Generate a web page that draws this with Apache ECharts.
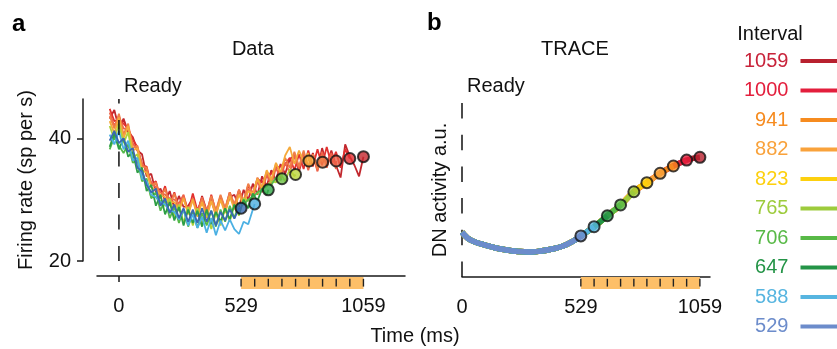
<!DOCTYPE html>
<html><head><meta charset="utf-8">
<script src="https://cdn.jsdelivr.net/npm/echarts@6/dist/echarts.min.js"></script>
<style>html,body{margin:0;padding:0;background:#fff}#c{width:837px;height:349px}</style>
</head><body><div id="c"></div>
<script>
// ---------- data ----------
const intervals = [529, 588, 647, 706, 765, 823, 882, 941, 1000, 1059];
const xTickLabels = [0, 529, 1059];
const yTickLabelsA = [20, 40];
const readyTime = 0;
const yRangeA = [20, 46.4];
const yRangeB = [0, 1];

// panel a: firing rate (sp per s) sampled every 20 ms from -40 ms
const timesA = [-40,-20,0,20,40,60,80,100,120,140,160,180,200,220,240,260,280,300,320,340,360,380,400,420,440,460,480,500,520,540,560,580,600,620,640,660,680,700,720,740,760,780,800,820,840,860,880,900,920,940,960,980,1000,1020,1040];
const a529 = [39.6,41.2,39.2,40.0,37.8,38.4,35.2,34.6,32.4,31.2,31.8,29.0,30.2,27.8,29.2,27.0,28.6,26.4,28.4,26.2,28.6,26.4,28.2,25.8,28.0,26.6,28.4,26.9,28.6];
const a588 = [40.6,39.0,41.2,38.2,39.6,36.4,36.8,33.4,33.0,30.8,30.4,29.6,29.2,28.2,28.0,26.8,28.4,25.8,27.6,25.4,27.2,24.6,27.0,24.2,26.6,25.0,26.8,25.2,24.4,26.4,26.0,28.4];
const a647 = [38.6,40.8,38.2,40.0,37.0,37.8,34.4,35.2,31.4,32.4,29.0,30.8,27.6,29.6,26.6,28.8,25.8,28.4,26.2,28.2,25.6,28.4,26.0,28.0,26.4,28.6,26.8,29.2,27.6,30.0,28.6,31.0,29.8,31.8,30.8];
const a706 = [38.2,40.2,38.8,37.6,39.0,36.0,36.4,33.0,33.4,30.2,31.2,28.2,30.0,27.0,28.8,26.2,28.4,25.6,28.0,25.4,27.8,25.8,28.2,25.6,28.4,26.4,29.0,27.0,29.4,29.2,30.0,30.4,31.2,31.6,32.4,32.4,33.6,33.2];
const a765 = [42.0,39.8,42.4,39.2,41.0,36.8,37.4,33.6,33.0,30.4,30.4,29.8,29.0,30.2,27.2,29.2,26.2,28.8,25.8,28.6,26.0,27.9,25.2,27.8,25.8,28.6,26.4,29.2,27.4,30.2,29.8,30.6,31.0,31.8,32.2,33.0,32.8,34.2,33.0,35.0,33.8];
const a823 = [42.8,40.8,43.4,40.0,42.0,38.0,38.4,34.8,34.4,32.0,31.6,30.8,30.4,29.6,29.6,28.2,30.2,27.6,30.0,27.2,29.6,27.0,29.8,27.6,30.0,27.8,30.6,28.4,30.8,29.2,31.4,31.0,33.4,31.8,34.8,33.2,36.0,34.4,37.2,38.6,35.8,38.0,36.2,37.6];
const a882 = [43.6,41.6,44.0,40.6,42.4,38.4,38.8,35.4,35.2,32.2,32.8,30.2,31.8,29.0,31.0,28.4,30.4,27.8,30.2,27.6,30.0,28.0,30.6,28.2,30.8,28.6,31.2,29.2,31.6,29.8,32.6,30.8,33.6,32.0,34.6,33.0,35.8,34.2,36.8,35.2,37.8,35.4,38.0,35.2,37.4,35.0,37.2];
const a941 = [44.2,42.0,43.6,41.6,41.4,39.2,38.0,36.0,34.6,32.8,32.0,31.2,30.8,30.2,30.0,29.4,30.8,28.0,30.2,27.8,30.4,28.0,29.8,27.4,30.2,28.2,31.0,28.8,31.4,29.4,31.8,30.2,33.0,31.2,34.0,32.4,35.2,33.4,36.0,34.4,37.2,35.0,37.6,34.8,37.4,34.6,37.8,35.2,37.6,35.0];
const a1000 = [44.8,42.8,43.0,42.4,41.6,39.8,38.6,35.6,35.4,32.4,33.0,30.2,32.2,29.2,31.2,28.6,30.6,28.0,31.0,28.2,30.2,27.6,30.8,28.0,30.4,28.4,31.2,29.0,31.6,29.6,32.4,31.0,33.4,32.8,34.0,34.2,35.2,35.4,35.8,36.8,34.8,37.4,35.0,38.0,35.4,38.2,35.6,38.6,35.8,37.8,35.2,38.2];
const a1059 = [43.2,44.6,41.6,43.2,41.0,40.2,38.0,37.4,33.8,34.2,31.2,31.8,29.8,31.4,28.6,30.6,28.8,29.0,30.2,27.6,30.6,28.2,30.0,27.8,30.6,28.2,30.4,30.8,28.8,31.6,30.0,32.6,30.8,33.8,32.2,34.8,33.2,35.8,34.2,36.6,37.2,34.6,37.4,35.2,37.6,34.8,38.4,35.6,38.0,35.6,33.6,39.0,37.0,35.6,33.8];
const linesA = [a529, a588, a647, a706, a765, a823, a882, a941, a1000, a1059];
const endValuesA = [28.6, 29.3, 31.6, 33.4, 34.1, 36.3, 36.1, 36.3, 36.7, 37.0];

// panel b: TRACE model DN activity (a.u.)
const traceTimes = [0, 25, 50, 100, 150, 200, 250, 300, 350, 400, 450, 500, 529, 588, 647, 706, 765, 823, 882, 941, 1000, 1059];
const traceValues = [0.257, 0.224, 0.205, 0.184, 0.167, 0.155, 0.147, 0.144, 0.149, 0.161, 0.178, 0.210, 0.236, 0.289, 0.352, 0.414, 0.490, 0.542, 0.596, 0.638, 0.672, 0.688];

// ---------- styles ----------
const colorsA = ['#3a68b3','#4bb0e3','#2e9e45','#55b94a','#b0d23a','#f5a93a','#f07e48','#ee6248','#e2302e','#c1272d'];
const circleColorsA = ['#3667b0','#4caee0','#33aa48','#6cbf44','#bcd638','#f5aa3c','#f07f48','#ee6148','#e22d2f','#c3262d'];
const colorsB = ['#6c8ccb','#57b5e0','#249447','#58b947','#9dcb3c','#fdd00e','#f9a23b','#f68b1f','#e31e3c','#b8202e'];
const legendTextColors = ['#6c8ccb','#57b5e0','#249447','#58b947','#9dcb3c','#fdd00e','#f9a23b','#f68b1f','#e31e3c','#c8233a'];
const FONT = '"Liberation Sans", Arial, Helvetica, sans-serif';
const barColor = '#fdbf68';

const series = [];
// panel a lines: longest first (bottom), shortest last (top)
for (let i = intervals.length - 1; i >= 0; i--) {
  const vals = linesA[i];
  const data = [];
  for (let k = 0; k < vals.length; k++) data.push([timesA[k], vals[k]]);
  data.push([intervals[i], endValuesA[i]]);
  series.push({
    name: String(intervals[i]), type: 'line', xAxisIndex: 0, yAxisIndex: 0,
    data, showSymbol: false, symbol: 'none', silent: true,
    lineStyle: { color: colorsA[i], width: 1.8 }, itemStyle: { color: colorsA[i] }, z: 2
  });
}

// dashed "Ready" marker drawn through the axes
function readySeries(xi, yi, range, dash, z) {
  return {
    type: 'custom', xAxisIndex: xi, yAxisIndex: yi, silent: true, z,
    data: [[readyTime, range[0], range[1]]],
    renderItem: (p, api) => {
      const a = api.coord([api.value(0), api.value(1)]);
      const b = api.coord([api.value(0), api.value(2)]);
      return { type: 'line', shape: { x1: a[0], y1: a[1], x2: b[0], y2: b[1] },
        style: { stroke: '#111', lineWidth: 1.5, lineDash: dash, fill: null } };
    }
  };
}
series.push(readySeries(0, 0, yRangeA, [15, 16.5], 3));
series.push({
  name: 'endA', type: 'scatter', xAxisIndex: 0, yAxisIndex: 0, silent: true,
  symbolSize: 11,
  data: intervals.map((v, i) => ({ value: [v, endValuesA[i]], itemStyle: { color: circleColorsA[i] } })),
  itemStyle: { borderColor: '#111', borderWidth: 2 }, z: 5
});

// panel b lines
for (let i = intervals.length - 1; i >= 0; i--) {
  const data = [];
  for (let k = 0; k < traceTimes.length; k++) if (traceTimes[k] <= intervals[i]) data.push([traceTimes[k], traceValues[k]]);
  series.push({
    name: String(intervals[i]), type: 'line', xAxisIndex: 2, yAxisIndex: 2,
    data, showSymbol: false, symbol: 'none', smooth: true, silent: true,
    lineStyle: { color: colorsB[i], width: 5.5 }, itemStyle: { color: colorsB[i] }, z: 2
  });
}
series.push(readySeries(2, 2, yRangeB, [15.5, 16.2], 1));
series.push({
  name: 'endB', type: 'scatter', xAxisIndex: 2, yAxisIndex: 2, silent: true,
  symbolSize: 11,
  data: intervals.map((v, i) => ({ value: [v, traceValues[traceTimes.indexOf(v)]], itemStyle: { color: colorsB[i] } })),
  itemStyle: { borderColor: '#111', borderWidth: 2 }, z: 5
});

// orange interval bars with tick marks
function barSeries(xi, yi) {
  return [{
    type: 'custom', xAxisIndex: xi, yAxisIndex: yi, silent: true,
    data: [[intervals[0], intervals[intervals.length - 1]]],
    renderItem: (p, api) => {
      const a = api.coord([api.value(0), 1]);
      const b = api.coord([api.value(1), 0]);
      return { type: 'rect', shape: { x: a[0], y: a[1], width: b[0] - a[0], height: b[1] - a[1] }, style: { fill: barColor } };
    }
  }, {
    type: 'custom', xAxisIndex: xi, yAxisIndex: yi, silent: true,
    data: intervals.map(v => [v]),
    renderItem: (p, api) => {
      const a = api.coord([api.value(0), 0.85]);
      const b = api.coord([api.value(0), 0.2]);
      return { type: 'line', shape: { x1: a[0], y1: a[1], x2: b[0], y2: b[1] }, style: { stroke: '#222', lineWidth: 1.4 } };
    }, z: 3
  }];
}
series.push(...barSeries(1, 1), ...barSeries(3, 3));

const axisLineStyle = { color: '#1a1a1a', width: 1.5 };
const plain = v => String(v);

const option = {
  animation: false,
  textStyle: { fontFamily: FONT },
  grid: [
    { left: 97, top: 99, width: 308, height: 162 },
    { left: 97, top: 277, width: 308, height: 12 },
    { left: 462, top: 103, width: 248, height: 174 },
    { left: 462, top: 277, width: 248, height: 12 }
  ],
  xAxis: [
    { gridIndex: 0, type: 'value', min: -95, max: 1239, offset: 15,
      axisLine: { show: true, onZero: false, lineStyle: axisLineStyle },
      axisTick: { show: true, length: 6, customValues: [readyTime], lineStyle: axisLineStyle },
      axisLabel: { customValues: xTickLabels, formatter: plain, fontSize: 20, color: '#111', margin: 20, fontFamily: FONT },
      splitLine: { show: false } },
    { gridIndex: 1, type: 'value', min: -95, max: 1239, show: false },
    { gridIndex: 2, type: 'value', min: 0, max: 1104,
      axisLine: { show: true, onZero: false, lineStyle: axisLineStyle },
      axisTick: { show: false },
      axisLabel: { customValues: xTickLabels, formatter: plain, fontSize: 20, color: '#111', margin: 20, fontFamily: FONT },
      splitLine: { show: false } },
    { gridIndex: 3, type: 'value', min: 0, max: 1104, show: false }
  ],
  yAxis: [
    { gridIndex: 0, type: 'value', min: yRangeA[0], max: yRangeA[1], offset: 14,
      name: 'Firing rate (sp per s)', nameLocation: 'middle', nameGap: 47, nameRotate: 90,
      nameTextStyle: { fontSize: 20, color: '#111', fontFamily: FONT },
      axisLine: { show: true, onZero: false, lineStyle: axisLineStyle },
      axisTick: { show: true, length: 6, customValues: yTickLabelsA, lineStyle: axisLineStyle },
      axisLabel: { customValues: yTickLabelsA, formatter: plain, fontSize: 20, color: '#111', margin: 12, fontFamily: FONT },
      splitLine: { show: false } },
    { gridIndex: 1, type: 'value', min: 0, max: 1, show: false },
    { gridIndex: 2, type: 'value', min: yRangeB[0], max: yRangeB[1],
      name: 'DN activity a.u.', nameLocation: 'middle', nameGap: 12, nameRotate: 90,
      nameTextStyle: { fontSize: 20, color: '#111', fontFamily: FONT },
      axisLine: { show: false, onZero: false }, axisTick: { show: false }, axisLabel: { show: false }, splitLine: { show: false } },
    { gridIndex: 3, type: 'value', min: 0, max: 1, show: false }
  ],
  legend: {
    orient: 'vertical', left: 744, top: 51, padding: 0, align: 'right',
    icon: 'rect', itemWidth: 40, itemHeight: 4, itemGap: 9.5, selectedMode: false,
    textStyle: { fontSize: 20, fontFamily: FONT, lineHeight: 20, padding: [0, 7, 0, 0] },
    data: intervals.map((v, i) => ({ name: String(v), itemStyle: { color: colorsB[i] }, textStyle: { color: legendTextColors[i] } })).reverse()
  },
  graphic: [
    { type: 'text', x: 12, y: 24, style: { text: 'a', fontSize: 24, fontWeight: 'bold', fontFamily: FONT, fill: '#000', verticalAlign: 'middle' } },
    { type: 'text', x: 427, y: 23, style: { text: 'b', fontSize: 24, fontWeight: 'bold', fontFamily: FONT, fill: '#000', verticalAlign: 'middle' } },
    { type: 'text', x: 253, y: 49, style: { text: 'Data', fontSize: 20, fontFamily: FONT, fill: '#111', align: 'center', verticalAlign: 'middle' } },
    { type: 'text', x: 575, y: 49, style: { text: 'TRACE', fontSize: 20, fontFamily: FONT, fill: '#111', align: 'center', verticalAlign: 'middle' } },
    { type: 'text', x: 124, y: 86, style: { text: 'Ready', fontSize: 20, fontFamily: FONT, fill: '#111', verticalAlign: 'middle' } },
    { type: 'text', x: 467, y: 86, style: { text: 'Ready', fontSize: 20, fontFamily: FONT, fill: '#111', verticalAlign: 'middle' } },
    { type: 'text', x: 770, y: 34, style: { text: 'Interval', fontSize: 20, fontFamily: FONT, fill: '#111', align: 'center', verticalAlign: 'middle' } },
    { type: 'text', x: 415, y: 336, style: { text: 'Time (ms)', fontSize: 20, fontFamily: FONT, fill: '#111', align: 'center', verticalAlign: 'middle' } }
  ],
  series
};
const chart = echarts.init(document.getElementById('c'), null, { renderer: 'canvas' });
chart.setOption(option);
</script></body></html>
